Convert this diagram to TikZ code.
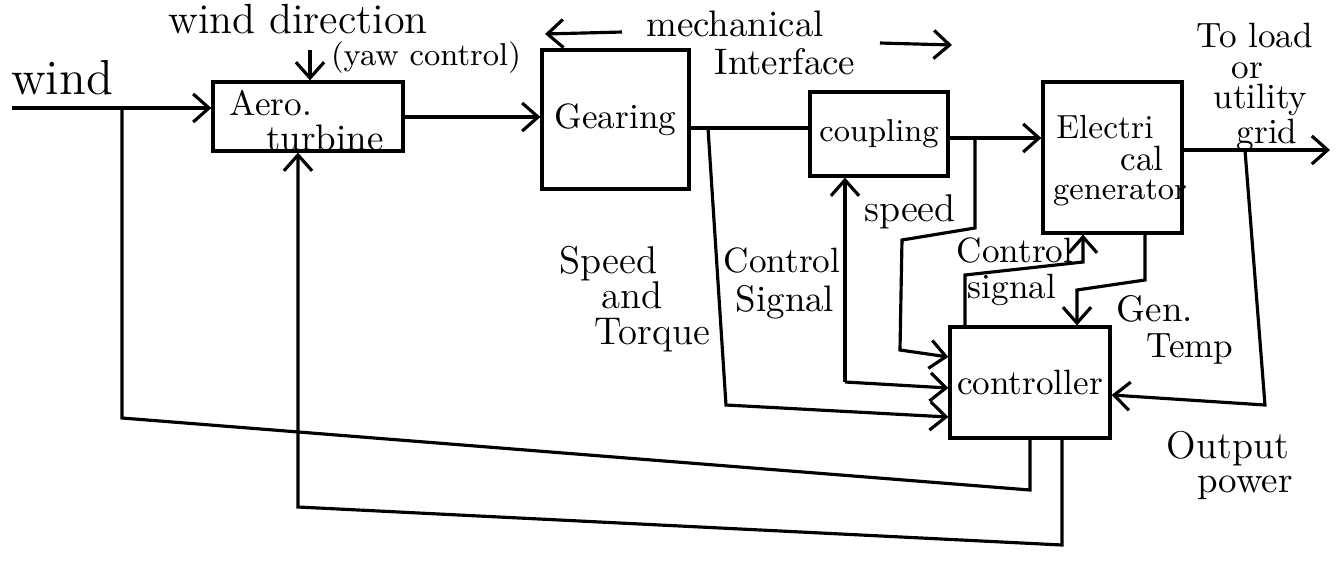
\documentclass[tikz,border=0pt]{standalone}
\usetikzlibrary{arrows.meta}
\begin{document}
\begin{tikzpicture}[x=0.01cm,y=-0.01cm,line width=0.9pt,
  box/.style={draw,line width=0.9pt,inner sep=0pt},
  lbl/.style={inner sep=0pt},
  fsz/.style={font=\fontsize{#1}{#1}\selectfont},
  arr/.style={-{Straight Barb[length=4.5pt,width=8pt]}}]
\useasboundingbox (0,0) rectangle (1341,572);
% boxes
\node[box,minimum width=1.90cm,minimum height=0.69cm] (aero) at (308,116.5) {};
\node[box,minimum width=1.47cm,minimum height=1.39cm,fsz=10] (gear) at (615.5,119.5) {Gearing};
\node[box,minimum width=1.38cm,minimum height=0.84cm,fsz=9] (coup) at (879,134) {coupling};
\node[box,minimum width=1.39cm,minimum height=1.51cm] (gen) at (1112.5,157.5) {};
\node[box,minimum width=1.60cm,minimum height=1.11cm,fsz=10] (ctrl) at (1030,382.5) {controller};
% box texts
\node[lbl,fsz=10] (aerot1) at (271,103) {Aero.};
\node[lbl,fsz=10.5] (aerot2) at (325,138) {turbine};
\node[lbl,fsz=9.5] (gent1) at (1105,127) {Electri};
\node[lbl,fsz=10] (gent2) at (1142,158) {cal};
\node[lbl,fsz=9] (gent3) at (1120,193) {generator};
% labels
\node[lbl,fsz=14] (windl) at (62,78) {wind};
\node[lbl,fsz=12] (wdir) at (298,19) {wind direction};
\node[lbl,fsz=9] (yawl) at (426,58) {(yaw control)};
\node[lbl,fsz=10.5] (mech) at (735,24) {mechanical};
\node[lbl,fsz=10.5] (intf) at (785,62) {Interface};
\node[lbl,anchor=north west,align=left,font=\fontsize{10}{8.6}\selectfont] (load) at (1195,22)
  {To load\\\hspace*{10pt}or\\\hspace*{4.8pt}utility\\\hspace*{11.4pt}grid};
\node[lbl,anchor=north west,align=left,font=\fontsize{11}{10}\selectfont] (spt) at (558,245)
  {Speed\\\hspace*{12pt}and\\\hspace*{10pt}Torque};
\node[lbl,fsz=10] (cs1) at (782,260) {Control};
\node[lbl,fsz=10.5] (cs2) at (785,302) {Signal};
\node[lbl,fsz=11] (spd) at (910,212) {speed};
\node[lbl,fsz=10] (cg1) at (1015,250) {Control};
\node[lbl,fsz=10] (cg2) at (1012,290) {signal};
\node[lbl,fsz=10.5] (gt1) at (1155,309) {Gen.};
\node[lbl,fsz=10] (gt2) at (1190,349) {Temp};
\node[lbl,fsz=11] (op1) at (1228,449) {Output};
\node[lbl,fsz=10.5] (op2) at (1245,488) {power};
% wind input and wind feedback to controller
\coordinate (wstart) at (12,108);
\draw[arr] (wstart) -- (aero.west |- wstart);
\coordinate (j1) at (122,108);
\coordinate (b1) at (122,418);
\coordinate (b2) at (1030,490);
\draw (j1) -- (b1) -- (b2) -- (b2 |- ctrl.south);
% yaw control
\coordinate (yaw) at (310,50);
\draw[arr] (yaw) -- (yaw |- aero.north);
% controller to aero turbine
\coordinate (c1) at (1062,545);
\coordinate (c2) at (298,507);
\draw[arr] (c1 |- ctrl.south) -- (c1) -- (c2) -- (c2 |- aero.south);
% aero to gearing
\coordinate (ag) at (0,117);
\draw[arr] (aero.east |- ag) -- (gear.west |- ag);
% gearing to coupling
\coordinate (gc) at (0,128);
\draw (gear.east |- gc) -- (coup.west |- gc);
\coordinate (j2) at (708,128);
\coordinate (j2b) at (726,405);
\coordinate (j2c) at (0,417);
\draw[arr] (j2) -- (j2b) -- (ctrl.west |- j2c);
% control signal to coupling
\coordinate (j3) at (845,382);
\coordinate (j3c) at (0,388);
\draw[arr] (j3) -- (j3 |- coup.south);
\draw[arr] (j3) -- (ctrl.west |- j3c);
% coupling to generator
\coordinate (cg) at (0,138);
\draw[arr] (coup.east |- cg) -- (gen.west |- cg);
\coordinate (j4) at (975,138);
\coordinate (s1) at (975,228);
\coordinate (s2) at (902,240);
\coordinate (s3) at (900,350);
\coordinate (s4) at (0,357);
\draw[arr] (j4) -- (s1) -- (s2) -- (s3) -- (ctrl.west |- s4);
% generator output
\coordinate (out) at (1330,150);
\draw[arr] (gen.east |- out) -- (out);
\coordinate (j5) at (1245,150);
\coordinate (p1) at (1265,405);
\coordinate (p2) at (0,395);
\draw[arr] (j5) -- (p1) -- (ctrl.east |- p2);
% control signal to generator
\coordinate (k1) at (965,275);
\coordinate (k2) at (1083,262);
\draw[arr] (k1 |- ctrl.north) -- (k1) -- (k2) -- (k2 |- gen.south);
% generator temperature
\coordinate (t1) at (1145,280);
\coordinate (t2) at (1077,290);
\draw[arr] (t1 |- gen.south) -- (t1) -- (t2) -- (t2 |- ctrl.north);
% mechanical interface arrows
\coordinate (m1) at (622,32);
\coordinate (m2) at (545,34);
\coordinate (m3) at (880,43);
\coordinate (m4) at (952,45);
\draw[arr] (m1) -- (m2);
\draw[arr] (m3) -- (m4);
\end{tikzpicture}
\end{document}
